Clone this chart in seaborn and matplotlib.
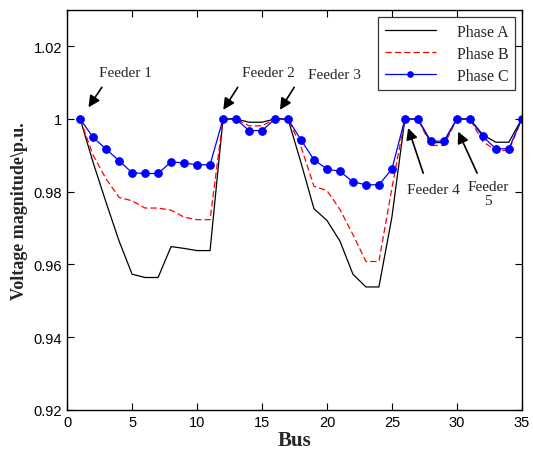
import matplotlib
matplotlib.use('Agg')
import matplotlib.pyplot as plt
import matplotlib.ticker as mticker
import pandas as pd
import seaborn as sns

# bus voltage profile per phase (p.u.)
bus = list(range(1, 36))
phase_a = [1.0, 0.988, 0.977, 0.9664, 0.9573, 0.9564, 0.9564, 0.9649, 0.9644, 0.9638, 0.9638,
           1.0, 1.0, 0.9991, 0.9991, 1.0, 1.0,
           0.988, 0.9753, 0.9721, 0.9664, 0.9573, 0.9538, 0.9538, 0.973,
           1.0, 1.0, 0.9935, 0.9935, 1.0, 1.0, 0.9956, 0.9936, 0.9936, 1.0]
phase_b = [1.0, 0.990, 0.9835, 0.9784, 0.9775, 0.9755, 0.9755, 0.9749, 0.9730, 0.9723, 0.9723,
           1.0, 1.0, 0.9981, 0.9981, 1.0, 1.0,
           0.9924, 0.9815, 0.9803, 0.9751, 0.9682, 0.9608, 0.9608, 0.981,
           1.0, 1.0, 0.9927, 0.9927, 1.0, 1.0, 0.9938, 0.9913, 0.9913, 1.0]
phase_c = [1.0, 0.9949, 0.9917, 0.9885, 0.9852, 0.9850, 0.9850, 0.9882, 0.9879, 0.9874, 0.9874,
           1.0, 1.0, 0.9968, 0.9968, 1.0, 1.0,
           0.9942, 0.9888, 0.9862, 0.9856, 0.9827, 0.9819, 0.9819, 0.9862,
           1.0, 1.0, 0.9939, 0.9939, 1.0, 1.0, 0.9952, 0.9918, 0.9918, 1.0]
phase_names = ['Phase A', 'Phase B', 'Phase C']

df = pd.DataFrame({'Bus': bus, 'Phase A': phase_a, 'Phase B': phase_b, 'Phase C': phase_c})

sns.set_style('ticks')
plt.rcParams['xtick.direction'] = 'in'
plt.rcParams['ytick.direction'] = 'in'

fig = plt.figure(figsize=(5.33, 4.52), dpi=100)
ax = fig.add_axes([0.126, 0.091, 0.853, 0.885])

# one line per phase
sns.lineplot(data=df, x='Bus', y='Phase A', color='black', lw=0.9, label='Phase A', ax=ax)
sns.lineplot(data=df, x='Bus', y='Phase B', color='red', lw=0.9, dashes=False, label='Phase B', ax=ax)
ax.lines[-1].set_linestyle((0, (5, 2.5)))
sns.lineplot(data=df, x='Bus', y='Phase C', color='blue', lw=0.9, marker='o', markersize=5.5,
             markeredgecolor='blue', label='Phase C', ax=ax)

ax.set_xlim(0, 35)
ax.set_ylim(0.92, 1.03)
ax.set_xticks(range(0, 36, 5))
ax.set_yticks([0.92, 0.94, 0.96, 0.98, 1.0, 1.02])
ax.yaxis.set_major_formatter(mticker.FuncFormatter(lambda v, p: '%g' % round(v, 2)))
ax.tick_params(which='both', top=True, right=True, length=5, width=0.8, labelsize=10.5, colors='black')
for lab in ax.get_xticklabels() + ax.get_yticklabels():
    lab.set_family('Liberation Sans')
for s in ax.spines.values():
    s.set_linewidth(1.0)
    s.set_color('black')

ax.set_xlabel('Bus', family='Liberation Serif', fontweight='bold', fontsize=15, labelpad=1)
ax.set_ylabel('Voltage magnitude\\p.u.', family='Liberation Serif', fontweight='bold', fontsize=13, labelpad=4)

leg = ax.legend(loc='upper right', bbox_to_anchor=(0.995, 0.993), prop={'family': 'Liberation Serif', 'size': 11.5},
                frameon=True, fancybox=False, edgecolor='black', handlelength=3.2, handletextpad=1.3,
                borderpad=0.4, labelspacing=0.38, borderaxespad=0.3)
leg.get_frame().set_linewidth(0.9)
leg.get_lines()[2].set_markersize(4)

# feeder annotations
tfont = dict(family='Liberation Serif', fontsize=11, ha='center', va='center')
arrow = dict(arrowstyle='-|>', color='black', lw=1.2, mutation_scale=17, shrinkA=0, shrinkB=0)
ax.text(4.52, 1.0127, 'Feeder 1', **tfont)
ax.annotate('', xy=(1.64, 1.0032), xytext=(2.67, 1.0087), arrowprops=arrow)
ax.text(15.52, 1.0127, 'Feeder 2', **tfont)
ax.annotate('', xy=(12.02, 1.0025), xytext=(13.13, 1.0087), arrowprops=arrow)
ax.text(20.54, 1.0121, 'Feeder 3', **tfont)
ax.annotate('', xy=(16.38, 1.0025), xytext=(17.48, 1.0087), arrowprops=arrow)
ax.text(28.18, 0.9807, 'Feeder 4', **tfont)
ax.annotate('', xy=(26.25, 0.9975), xytext=(27.41, 0.9851), arrowprops=arrow)
ax.text(32.38, 0.9795, 'Feeder\n5', linespacing=1.1, **tfont)
ax.annotate('', xy=(30.1, 0.9965), xytext=(31.56, 0.9851), arrowprops=arrow)

plt.savefig('out.png', dpi=100)
